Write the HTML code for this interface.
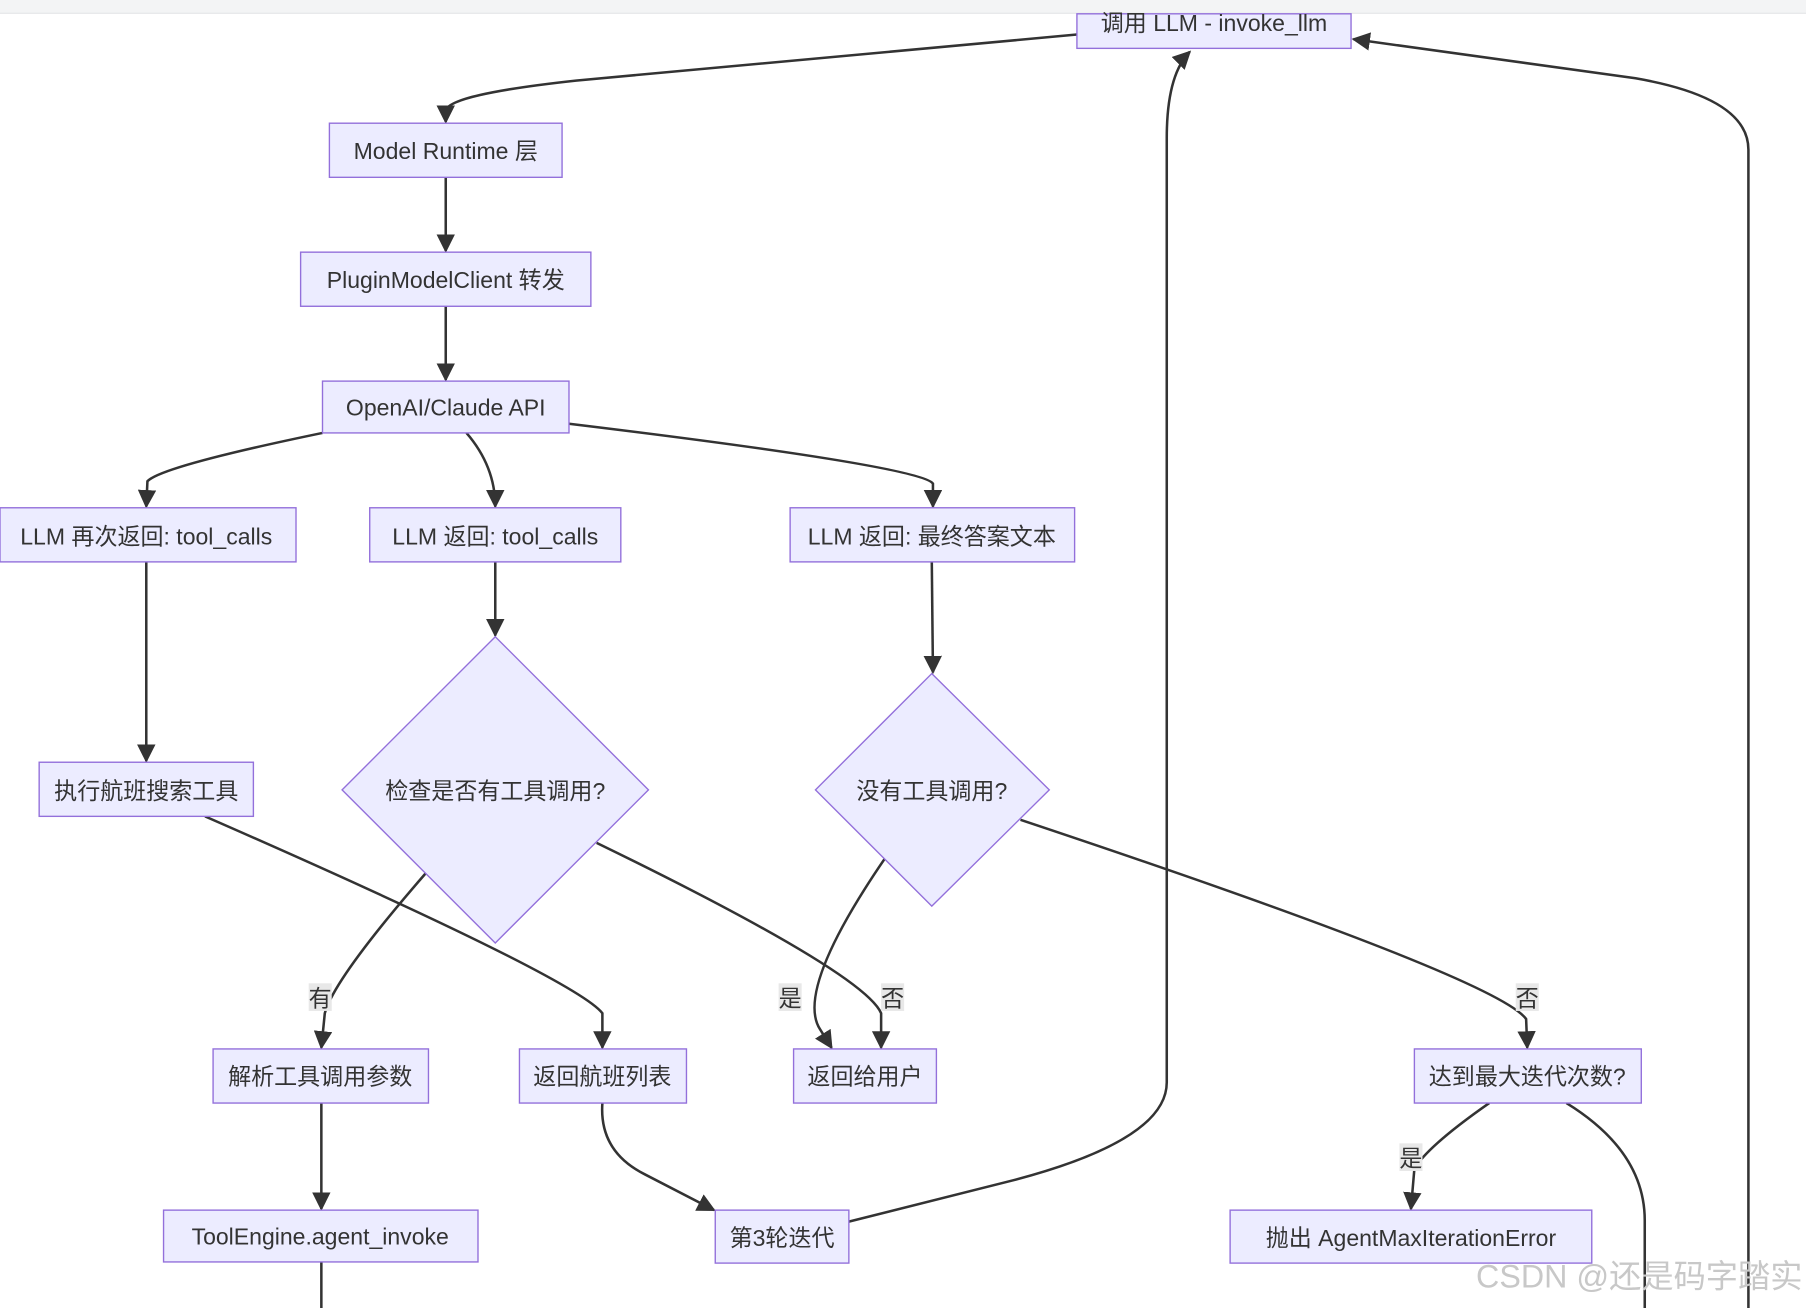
<!DOCTYPE html>
<html><head><meta charset="utf-8"><style>
html,body{margin:0;padding:0;background:#fff;width:1806px;height:1308px;overflow:hidden}
svg text{font-family:"Liberation Sans","Noto Sans CJK SC",sans-serif;fill:#333;font-size:20px}
</style></head><body>
<svg width="1806" height="1308" viewBox="0 0 1568 1136" preserveAspectRatio="none">
<defs>
<marker id="b" viewBox="0 0 10 10" refX="9" refY="5" markerWidth="16" markerHeight="16" markerUnits="userSpaceOnUse" orient="auto"><path d="M0,0L10,5L0,10z" fill="#333"/></marker></defs>
<g fill="none" stroke="#333" stroke-width="2.2">
<path d="M935,30 L500,70 Q390,82 387,96 L387,106" marker-end="url(#b)"/>
<path d="M387,154 V218" marker-end="url(#b)"/>
<path d="M387,266 V330" marker-end="url(#b)"/>
<path d="M280,376 Q140,405 128,418 L127,440" marker-end="url(#b)"/>
<path d="M405,376 Q430,405 430,440" marker-end="url(#b)"/>
<path d="M494,368 Q800,405 810,420 L810,440" marker-end="url(#b)"/>
<path d="M127,488 V661" marker-end="url(#b)"/>
<path d="M430,488 V552" marker-end="url(#b)"/>
<path d="M809,488 L810,584" marker-end="url(#b)"/>
<path d="M178,709 Q500,850 523,880 L523,910" marker-end="url(#b)"/>
<path d="M370,758 Q290,850 282,880 L279,910" marker-end="url(#b)"/>
<path d="M518,732 Q750,845 765,880 L765,910" marker-end="url(#b)"/>
<path d="M768,746 Q690,860 712,894 L722,910" marker-end="url(#b)"/>
<path d="M886,712 Q1300,850 1325,885 L1326,910" marker-end="url(#b)"/>
<path d="M1293,958 Q1240,995 1228,1015 L1225,1050" marker-end="url(#b)"/>
<path d="M1360,958 Q1428,1000 1428,1060 V1136"/>
<path d="M279,958 V1050" marker-end="url(#b)"/>
<path d="M279,1096 V1136"/>
<path d="M523,958 Q520,1000 560,1020 L620,1051" marker-end="url(#b)"/>
<path d="M737,1061 L880,1025 Q1013,990 1013,940 L1013,120 Q1013,65 1033,45" marker-end="url(#b)"/>
<path d="M1518,1136 V130 Q1518,85 1420,68 L1175,34" marker-end="url(#b)"/>
</g>
<rect x="0" y="0" width="1568" height="11" fill="#f3f4f5"/>
<line x1="0" y1="11.5" x2="1568" y2="11.5" stroke="#e4e6e8"/>
<g fill="#ECECFF" stroke="#9370DB" stroke-width="1.2">
<rect x="935" y="12" width="238" height="30"/>
<rect x="286" y="107" width="202" height="47"/>
<rect x="261" y="219" width="252" height="47"/>
<rect x="280" y="331" width="214" height="45"/>
<rect x="0" y="441" width="257" height="47"/>
<rect x="321" y="441" width="218" height="47"/>
<rect x="686" y="441" width="247" height="47"/>
<rect x="34" y="662" width="186" height="47"/>
<path d="M430,553L563,686L430,819L297,686Z"/>
<path d="M809,585L911,686L809,787L708,686Z"/>
<rect x="185" y="911" width="187" height="47"/>
<rect x="451" y="911" width="145" height="47"/>
<rect x="689" y="911" width="124" height="47"/>
<rect x="1228" y="911" width="197" height="47"/>
<rect x="142" y="1051" width="273" height="45"/>
<rect x="621" y="1051" width="116" height="46"/>
<rect x="1068" y="1051" width="314" height="46"/>
</g>
<g text-anchor="middle">
<text x="1054" y="27">调用 LLM - invoke_llm</text>
<text x="387" y="138">Model Runtime 层</text>
<text x="387" y="250">PluginModelClient 转发</text>
<text x="387" y="361">OpenAI/Claude API</text>
<text x="127" y="473">LLM 再次返回: tool_calls</text>
<text x="430" y="473">LLM 返回: tool_calls</text>
<text x="809" y="473">LLM 返回: 最终答案文本</text>
<text x="127" y="694">执行航班搜索工具</text>
<text x="430" y="694">检查是否有工具调用?</text>
<text x="809" y="694">没有工具调用?</text>
<text x="278" y="942">解析工具调用参数</text>
<text x="523" y="942">返回航班列表</text>
<text x="751" y="942">返回给用户</text>
<text x="1326" y="942">达到最大迭代次数?</text>
<text x="278" y="1081">ToolEngine.agent_invoke</text>
<text x="679" y="1082">第3轮迭代</text>
<text x="1225" y="1082">抛出 AgentMaxIterationError</text>
</g>
<g fill="#e8e8e8"><rect x="268" y="854" width="20" height="24"/><rect x="676" y="854" width="20" height="24"/><rect x="765" y="854" width="20" height="24"/><rect x="1316" y="854" width="20" height="24"/><rect x="1215" y="993" width="20" height="24"/></g>
<g text-anchor="middle">
<text x="278" y="874">有</text><text x="686" y="874">是</text><text x="775" y="874">否</text><text x="1326" y="874">否</text><text x="1225" y="1013">是</text>
</g>
<text x="1565" y="1118" text-anchor="end" style="font-size:28px;fill:#c8c8c8">CSDN @还是码字踏实</text>
</svg>
</body></html>
